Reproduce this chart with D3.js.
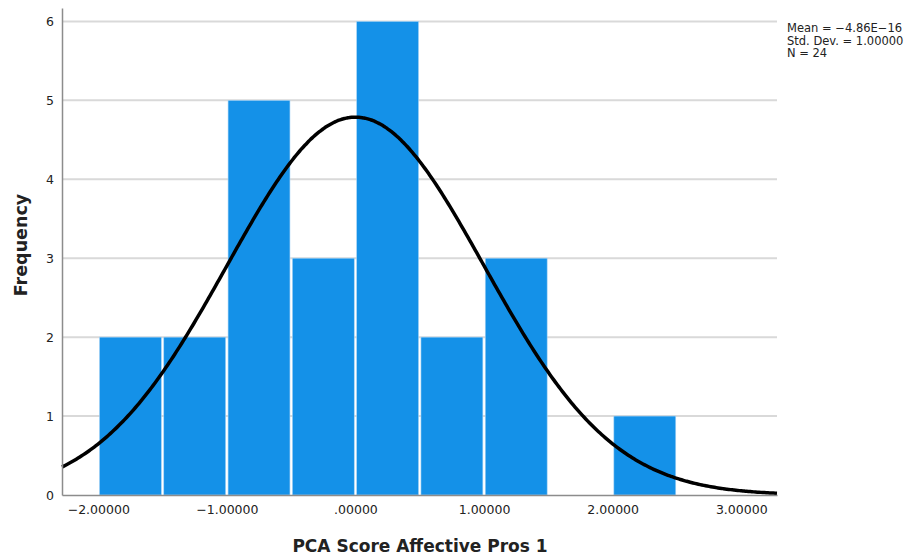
<!DOCTYPE html>
<html><head><meta charset="utf-8">
<script src="https://cdn.jsdelivr.net/npm/d3@7"></script>
<style>body{margin:0;background:#fff}svg{display:block}</style>
</head><body>
<svg id="c" width="918" height="557"></svg>
<script>
const binStarts = [-2.0, -1.5, -1.0, -0.5, 0.0, 0.5, 1.0, 1.5, 2.0];
const binWidth = 0.5;
const counts = [2, 2, 5, 3, 6, 2, 3, 0, 1];
const yTicks = [0, 1, 2, 3, 4, 5, 6];
const xTicks = [-2, -1, 0, 1, 2, 3];
const statsLines = ["Mean = \u22124.86E\u221216", "Std. Dev. = 1.00000", "N = 24"];
const mean = -4.86e-16, sd = 1.0, n = 24;

const svg = d3.select("#c");
const L = 62, R = 777, B = 495, T = 8;
const x = d3.scaleLinear().domain([-2.282, 3.278]).range([L, R]);
const y = d3.scaleLinear().domain([0, 6.17]).range([B, T]);

// gridlines
svg.append("g").selectAll("line").data(yTicks.filter(d => d > 0)).join("line")
  .attr("x1", L).attr("x2", R).attr("y1", d => y(d)).attr("y2", d => y(d))
  .attr("stroke", "#d9d9d9").attr("stroke-width", 2);

// bars
svg.append("g").selectAll("rect").data(binStarts.map((s, i) => ({s, c: counts[i]})).filter(d => d.c > 0)).join("rect")
  .attr("x", d => x(d.s) + 1.2)
  .attr("width", d => x(d.s + binWidth) - x(d.s) - 2.4)
  .attr("y", d => y(d.c))
  .attr("height", d => y(0) - y(d.c))
  .attr("fill", "#1491e8")
  .attr("stroke", "#a8d4f5").attr("stroke-width", 0.6);

// normal curve
const pts = d3.range(0, 401).map(i => {
  const v = -2.282 + (3.278 + 2.282) * i / 400;
  const f = n * binWidth * Math.exp(-0.5 * ((v - mean) / sd) ** 2) / (sd * Math.sqrt(2 * Math.PI));
  return [v, f];
});
svg.append("path").datum(pts)
  .attr("d", d3.line().x(d => x(d[0])).y(d => y(d[1])).curve(d3.curveBasis))
  .attr("fill", "none").attr("stroke", "#000").attr("stroke-width", 3.5);

// axes
const font = "'DejaVu Sans', sans-serif";
const ya = d3.axisLeft(y).tickValues(yTicks).tickSize(0).tickPadding(8).tickFormat(d3.format("d"));
const gy = svg.append("g").attr("transform", `translate(${L},0)`).call(ya);
gy.select(".domain").attr("stroke", "#8c8c8c").attr("stroke-width", 1.5);
gy.selectAll("text").attr("font-family", font).attr("font-size", 12.5).attr("fill", "#222");

const fmt = d => d === 0 ? ".00000" : d3.format(".5f")(d).replace("-", "\u2212");
const xa = d3.axisBottom(x).tickValues(xTicks).tickSize(0).tickPadding(10).tickFormat(fmt);
const gx = svg.append("g").attr("transform", `translate(0,${B})`).call(xa);
gx.select(".domain").attr("stroke", "#8c8c8c").attr("stroke-width", 1.5);
gx.selectAll("text").attr("font-family", font).attr("font-size", 12.5).attr("fill", "#222");

// titles
svg.append("text").attr("x", 420).attr("y", 552).attr("text-anchor", "middle")
  .attr("font-family", font).attr("font-weight", "bold").attr("font-size", 17).attr("fill", "#222")
  .text("PCA Score Affective Pros 1");
svg.append("text").attr("transform", "translate(27,245) rotate(-90)").attr("text-anchor", "middle")
  .attr("font-family", font).attr("font-weight", "bold").attr("font-size", 17.5).attr("fill", "#222")
  .text("Frequency");

// stats
svg.append("g").selectAll("text").data(statsLines).join("text")
  .attr("x", 787).attr("y", (d, i) => 32 + i * 12.5)
  .attr("font-family", font).attr("font-size", 11.5).attr("fill", "#222")
  .text(d => d);
</script>
</body></html>
